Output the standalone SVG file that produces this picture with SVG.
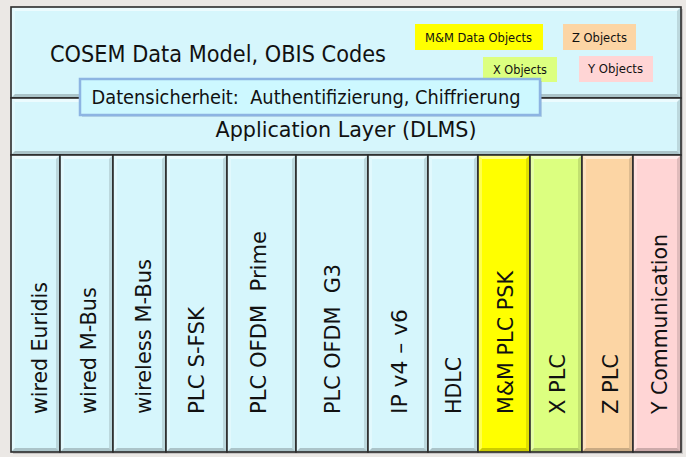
<svg xmlns="http://www.w3.org/2000/svg" width="686" height="457" viewBox="0 0 686 457">
<style>
  .bg{fill:#ebe8e5}
  .cyan{fill:#d6f6fc}
  .yel{fill:#ffff00}
  .grn{fill:#dcff80}
  .pch{fill:#fcd5a4}
  .pnk{fill:#ffd5d5}
  .frame{fill:none;stroke:#2b2b2b;stroke-width:1.6}
  .hl{fill:#ffffff;fill-opacity:.55}
  .hl2{fill:#ffffff;fill-opacity:.3}
  .sh{fill:#000000;fill-opacity:.2}
  .sh2{fill:#000000;fill-opacity:.12}
  text{font-family:"DejaVu Sans","Liberation Sans",sans-serif;fill:#111}
  .big{font-size:23px}
  .mid{font-size:22px}
  .sec{font-size:20px}
  .col{font-size:21.5px}
  .sm{font-size:13px}
</style>
<rect class="bg" x="0" y="0" width="686" height="457"/>
<rect x="13" y="9" width="670" height="445" fill="#9a9a9a" fill-opacity=".45"/>

<g id="cosem-data-model">
  <rect class="cyan" x="11" y="7" width="670" height="91"/>
  <polygon class="hl" points="11,7 681,7 677,11 15,11"/>
  <polygon class="hl2" points="11,7 15,11 15,94 11,98"/>
  <polygon class="sh" points="11,98 15,94 677,94 681,98"/>
  <polygon class="sh2" points="681,7 681,98 677,94 677,11"/>
  <rect class="frame" x="11" y="7" width="670" height="91"/>
  <text class="big" x="50" y="62" textLength="336" lengthAdjust="spacingAndGlyphs">COSEM Data Model, OBIS Codes</text>
</g>

<g id="mm-data-objects">
  <rect class="yel" x="415" y="24" width="128" height="26"/>
  <text class="sm" x="425" y="42" textLength="107" lengthAdjust="spacingAndGlyphs">M&amp;M Data Objects</text>
</g>
<g id="z-objects">
  <rect class="pch" x="563" y="24" width="73" height="26"/>
  <text class="sm" x="572" y="42" textLength="55" lengthAdjust="spacingAndGlyphs">Z Objects</text>
</g>
<g id="x-objects">
  <rect class="grn" x="483" y="57" width="74" height="25"/>
  <text class="sm" x="493" y="74" textLength="54" lengthAdjust="spacingAndGlyphs">X Objects</text>
</g>
<g id="y-objects">
  <rect class="pnk" x="579" y="56" width="74" height="26"/>
  <text class="sm" x="588" y="73" textLength="55" lengthAdjust="spacingAndGlyphs">Y Objects</text>
</g>

<g id="application-layer">
  <rect class="cyan" x="11" y="98" width="670" height="57"/>
  <polygon class="hl" points="11,98 681,98 677,102 15,102"/>
  <polygon class="hl2" points="11,98 15,102 15,151 11,155"/>
  <polygon class="sh" points="11,155 15,151 677,151 681,155"/>
  <polygon class="sh2" points="681,98 681,155 677,151 677,102"/>
  <rect class="frame" x="11" y="98" width="670" height="57"/>
  <text class="mid" x="346" y="137" text-anchor="middle" textLength="261" lengthAdjust="spacingAndGlyphs">Application Layer (DLMS)</text>
</g>

<g id="datensicherheit">
  <rect x="82" y="81" width="460" height="36" fill="#7f9fc0" fill-opacity=".35"/>
  <rect x="80" y="79" width="460" height="36" fill="#cdf8ff" stroke="#8db4e2" stroke-width="2.5"/>
  <text class="sec" x="306" y="104" text-anchor="middle" xml:space="preserve" textLength="429" lengthAdjust="spacingAndGlyphs">Datensicherheit:  Authentifizierung, Chiffrierung</text>
</g>

<g id="col-wired-euridis">
  <rect class="cyan" x="11" y="155" width="49" height="297"/>
  <polygon class="hl" points="11,155 60,155 56,159 15,159"/>
  <polygon class="hl2" points="11,155 15,159 15,448 11,452"/>
  <polygon class="sh" points="11,452 15,448 56,448 60,452"/>
  <polygon class="sh2" points="60,155 60,452 56,448 56,159"/>
  <rect class="frame" x="11" y="155" width="49" height="297"/>
  <text class="col" transform="translate(47,414) rotate(-90)" textLength="132" lengthAdjust="spacingAndGlyphs">wired Euridis</text>
</g>
<g id="col-wired-mbus">
  <rect class="cyan" x="60" y="155" width="53" height="297"/>
  <polygon class="hl" points="60,155 113,155 109,159 64,159"/>
  <polygon class="hl2" points="60,155 64,159 64,448 60,452"/>
  <polygon class="sh" points="60,452 64,448 109,448 113,452"/>
  <polygon class="sh2" points="113,155 113,452 109,448 109,159"/>
  <rect class="frame" x="60" y="155" width="53" height="297"/>
  <text class="col" transform="translate(96,414) rotate(-90)" textLength="127" lengthAdjust="spacingAndGlyphs">wired M-Bus</text>
</g>
<g id="col-wireless-mbus">
  <rect class="cyan" x="113" y="155" width="53" height="297"/>
  <polygon class="hl" points="113,155 166,155 162,159 117,159"/>
  <polygon class="hl2" points="113,155 117,159 117,448 113,452"/>
  <polygon class="sh" points="113,452 117,448 162,448 166,452"/>
  <polygon class="sh2" points="166,155 166,452 162,448 162,159"/>
  <rect class="frame" x="113" y="155" width="53" height="297"/>
  <text class="col" transform="translate(151,414) rotate(-90)" textLength="155" lengthAdjust="spacingAndGlyphs">wireless M-Bus</text>
</g>
<g id="col-plc-sfsk">
  <rect class="cyan" x="166" y="155" width="61" height="297"/>
  <polygon class="hl" points="166,155 227,155 223,159 170,159"/>
  <polygon class="hl2" points="166,155 170,159 170,448 166,452"/>
  <polygon class="sh" points="166,452 170,448 223,448 227,452"/>
  <polygon class="sh2" points="227,155 227,452 223,448 223,159"/>
  <rect class="frame" x="166" y="155" width="61" height="297"/>
  <text class="col" transform="translate(204,414) rotate(-90)" textLength="107" lengthAdjust="spacingAndGlyphs">PLC S-FSK</text>
</g>
<g id="col-plc-ofdm-prime">
  <rect class="cyan" x="227" y="155" width="69" height="297"/>
  <polygon class="hl" points="227,155 296,155 292,159 231,159"/>
  <polygon class="hl2" points="227,155 231,159 231,448 227,452"/>
  <polygon class="sh" points="227,452 231,448 292,448 296,452"/>
  <polygon class="sh2" points="296,155 296,452 292,448 292,159"/>
  <rect class="frame" x="227" y="155" width="69" height="297"/>
  <text class="col" transform="translate(266,414) rotate(-90)" xml:space="preserve" textLength="183" lengthAdjust="spacingAndGlyphs">PLC OFDM  Prime</text>
</g>
<g id="col-plc-ofdm-g3">
  <rect class="cyan" x="296" y="155" width="72" height="297"/>
  <polygon class="hl" points="296,155 368,155 364,159 300,159"/>
  <polygon class="hl2" points="296,155 300,159 300,448 296,452"/>
  <polygon class="sh" points="296,452 300,448 364,448 368,452"/>
  <polygon class="sh2" points="368,155 368,452 364,448 364,159"/>
  <rect class="frame" x="296" y="155" width="72" height="297"/>
  <text class="col" transform="translate(340,414) rotate(-90)" xml:space="preserve" textLength="150" lengthAdjust="spacingAndGlyphs">PLC OFDM  G3</text>
</g>
<g id="col-ip">
  <rect class="cyan" x="368" y="155" width="60" height="297"/>
  <polygon class="hl" points="368,155 428,155 424,159 372,159"/>
  <polygon class="hl2" points="368,155 372,159 372,448 368,452"/>
  <polygon class="sh" points="368,452 372,448 424,448 428,452"/>
  <polygon class="sh2" points="428,155 428,452 424,448 424,159"/>
  <rect class="frame" x="368" y="155" width="60" height="297"/>
  <text class="col" transform="translate(407,414) rotate(-90)" textLength="105" lengthAdjust="spacingAndGlyphs">IP v4 – v6</text>
</g>
<g id="col-hdlc">
  <rect class="cyan" x="428" y="155" width="50" height="297"/>
  <polygon class="hl" points="428,155 478,155 474,159 432,159"/>
  <polygon class="hl2" points="428,155 432,159 432,448 428,452"/>
  <polygon class="sh" points="428,452 432,448 474,448 478,452"/>
  <polygon class="sh2" points="478,155 478,452 474,448 474,159"/>
  <rect class="frame" x="428" y="155" width="50" height="297"/>
  <text class="col" transform="translate(461,414) rotate(-90)" textLength="57" lengthAdjust="spacingAndGlyphs">HDLC</text>
</g>
<g id="col-mm-plc-psk">
  <rect class="yel" x="478" y="155" width="52" height="297"/>
  <polygon class="hl" points="478,155 530,155 526,159 482,159"/>
  <polygon class="hl2" points="478,155 482,159 482,448 478,452"/>
  <polygon class="sh" points="478,452 482,448 526,448 530,452"/>
  <polygon class="sh2" points="530,155 530,452 526,448 526,159"/>
  <rect class="frame" x="478" y="155" width="52" height="297"/>
  <text class="col" transform="translate(513,414) rotate(-90)" textLength="143" lengthAdjust="spacingAndGlyphs">M&amp;M PLC PSK</text>
</g>
<g id="col-x-plc">
  <rect class="grn" x="530" y="155" width="52" height="297"/>
  <polygon class="hl" points="530,155 582,155 578,159 534,159"/>
  <polygon class="hl2" points="530,155 534,159 534,448 530,452"/>
  <polygon class="sh" points="530,452 534,448 578,448 582,452"/>
  <polygon class="sh2" points="582,155 582,452 578,448 578,159"/>
  <rect class="frame" x="530" y="155" width="52" height="297"/>
  <text class="col" transform="translate(565,414) rotate(-90)" textLength="60" lengthAdjust="spacingAndGlyphs">X PLC</text>
</g>
<g id="col-z-plc">
  <rect class="pch" x="582" y="155" width="51" height="297"/>
  <polygon class="hl" points="582,155 633,155 629,159 586,159"/>
  <polygon class="hl2" points="582,155 586,159 586,448 582,452"/>
  <polygon class="sh" points="582,452 586,448 629,448 633,452"/>
  <polygon class="sh2" points="633,155 633,452 629,448 629,159"/>
  <rect class="frame" x="582" y="155" width="51" height="297"/>
  <text class="col" transform="translate(618,414) rotate(-90)" textLength="60" lengthAdjust="spacingAndGlyphs">Z PLC</text>
</g>
<g id="col-y-communication">
  <rect class="pnk" x="633" y="155" width="48" height="297"/>
  <polygon class="hl" points="633,155 681,155 677,159 637,159"/>
  <polygon class="hl2" points="633,155 637,159 637,448 633,452"/>
  <polygon class="sh" points="633,452 637,448 677,448 681,452"/>
  <polygon class="sh2" points="681,155 681,452 677,448 677,159"/>
  <rect class="frame" x="633" y="155" width="48" height="297"/>
  <text class="col" transform="translate(667,414) rotate(-90)" textLength="180" lengthAdjust="spacingAndGlyphs">Y Communication</text>
</g>

<g id="connectors"></g>
</svg>
